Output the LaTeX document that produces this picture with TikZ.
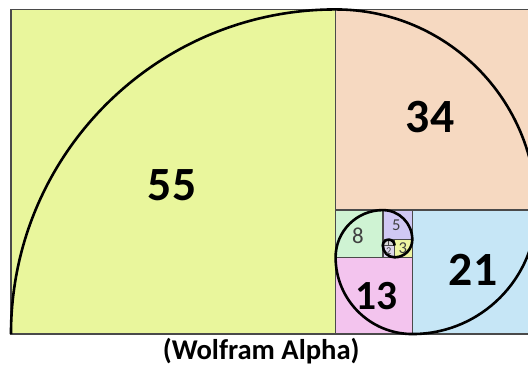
\documentclass[tikz,border=0pt]{standalone}
\usepackage{fontspec}
\setmainfont{Carlito}
\usepackage{xcolor}

\definecolor{c55}{HTML}{E9F69C}
\definecolor{c34}{HTML}{F6D9C1}
\definecolor{c21}{HTML}{C6E6F6}
\definecolor{c13}{HTML}{F3C4EE}
\definecolor{c8}{HTML}{CFF3D3}
\definecolor{c5}{HTML}{D0C8F4}
\definecolor{c3}{HTML}{EEF5A2}
\definecolor{c2}{HTML}{DDD6EC}
\definecolor{c1}{HTML}{D8D8D8}
\definecolor{edgegray}{HTML}{4A4A4A}
\definecolor{numgray}{HTML}{404040}

\begin{document}
\begin{tikzpicture}[x=1mm, y=1mm,
  sq/.style={draw=edgegray, line width=0.7pt},
  big/.style={font=\fontsize{23}{23}\selectfont\bfseries},
  mid/.style={font=\fontsize{20}{20}\selectfont\bfseries},
  small/.style={text=numgray, inner sep=0pt},
  spiral/.style={line width=1.25pt, black}
]
\useasboundingbox (-1.86,-5.6) rectangle (87.6,56.6);
% squares: corner x / corner y / side / colour
\foreach \x/\y/\s/\c in {0/0/55/c55, 55/21/34/c34, 68/0/21/c21, 55/0/13/c13,
  55/13/8/c8, 63/16/5/c5, 65/13/3/c3, 63/13/2/c2, 63/15/1/c1, 64/15/1/c1}
  \filldraw[sq, fill=\c] (\x,\y) rectangle ++(\s,\s);
% the spiral, one quarter circle per square
\draw[spiral] (0,0) arc[start angle=180, end angle=90, radius=55]
  arc[start angle=90, end angle=0, radius=34]
  arc[start angle=0, end angle=-90, radius=21]
  arc[start angle=270, end angle=180, radius=13]
  arc[start angle=180, end angle=90, radius=8]
  arc[start angle=90, end angle=0, radius=5]
  arc[start angle=0, end angle=-90, radius=3]
  arc[start angle=270, end angle=180, radius=2]
  arc[start angle=180, end angle=90, radius=1]
  arc[start angle=90, end angle=0, radius=1];
% labels
\node[big] (n55) at (27.3,25.3) {55};
\node[big] (n34) at (71.0,36.8) {34};
\node[big] (n21) at (78.3,10.8) {21};
\node[mid] (n13) at (61.9,6.4) {13};
\node[small, font=\fontsize{11}{11}\selectfont] (n8) at (58.8,16.6) {8};
\node[small, font=\fontsize{8}{8}\selectfont] (n5) at (65.3,18.5) {5};
\node[small, font=\fontsize{8}{8}\selectfont] (n3) at (66.4,14.6) {3};
\node[small, font=\fontsize{5}{5}\selectfont] (n2) at (64.0,14.0) {2};
\node[font=\fontsize{13.8}{13.8}\selectfont\bfseries] (cap) at (42.4,-2.9) {(Wolfram Alpha)};
\end{tikzpicture}
\end{document}
